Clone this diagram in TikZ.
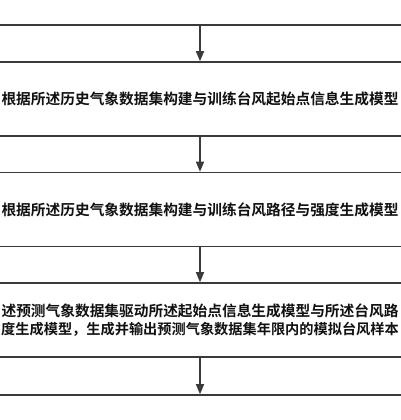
\documentclass[tikz,border=0pt]{standalone}
\usepackage{fontspec}
\newfontfamily\cjk{Noto Sans CJK SC}[BoldFont={Noto Sans CJK SC Bold}]
\usetikzlibrary{arrows.meta}
\definecolor{linegray}{HTML}{3A3A3A}
\definecolor{txt}{HTML}{111111}
\begin{document}
\begin{tikzpicture}[x=1pt,y=1pt,
  stepbox/.style={draw=linegray, line width=1.5pt, minimum width=480pt,
    minimum height=74pt, inner sep=0pt, text=txt, align=center,
    font=\cjk\bfseries\fontsize{14.7pt}{18.5pt}\selectfont},
  flow/.style={draw=linegray, line width=1.4pt,
    -{Triangle[length=10pt,width=8pt]}}]
\useasboundingbox (0,0) rectangle (400,420);
\node[stepbox] (b1) at (200,432) {};
\node[stepbox] (b2) at (200,321)
  {根据所述历史气象数据集构建与训练台风起始点信息生成模型};
\node[stepbox] (b3) at (200,210.5)
  {根据所述历史气象数据集构建与训练台风路径与强度生成模型};
\node[stepbox] (b4) at (200,100)
  {述预测气象数据集驱动所述起始点信息生成模型与所述台风路\\
   {\fontsize{14.2pt}{18.5pt}\selectfont 度生成模型，生成并输出预测气象数据集年限内的模拟台风样本}};
\node[stepbox] (b5) at (200,-12) {};
\draw[flow] (b1) -- (b2);
\draw[flow] (b2) -- (b3);
\draw[flow] (b3) -- (b4);
\draw[flow] (b4) -- (b5);
\end{tikzpicture}
\end{document}
